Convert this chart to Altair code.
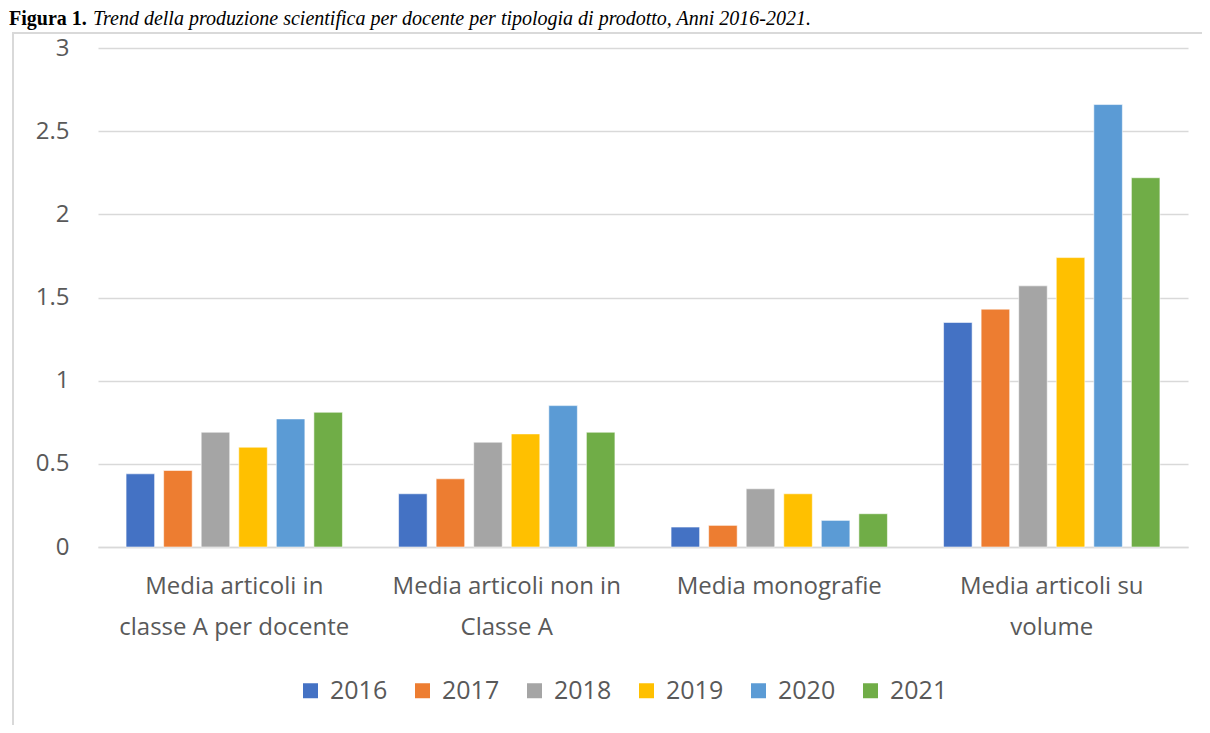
import altair as alt
import pandas as pd

category_lines = [
    ["Media articoli in", "classe A per docente"],
    ["Media articoli non in", "Classe A"],
    ["Media monografie"],
    ["Media articoli su", "volume"],
]
categories = [" ".join(l) for l in category_lines]
years = ["2016", "2017", "2018", "2019", "2020", "2021"]
colors = ["#4472C4", "#ED7D31", "#A5A5A5", "#FFC000", "#5B9BD5", "#70AD47"]

v_classe_a = [0.44, 0.46, 0.69, 0.60, 0.77, 0.81]
v_non_classe_a = [0.32, 0.41, 0.63, 0.68, 0.85, 0.69]
v_monografie = [0.12, 0.13, 0.35, 0.32, 0.16, 0.20]
v_volume = [1.35, 1.43, 1.57, 1.74, 2.66, 2.22]
series = [v_classe_a, v_non_classe_a, v_monografie, v_volume]

y_ticks = [0, 0.5, 1, 1.5, 2, 2.5, 3]

caption_bold = "Figura 1."
caption_rest = "Trend della produzione scientifica per docente per tipologia di prodotto, Anni 2016-2021."

rows = []
for c, vals in zip(categories, series):
    for y, v in zip(years, vals):
        rows.append({"category": c, "year": y, "value": v})
df = pd.DataFrame(rows)

# label expression producing multi-line labels
expr = "''"
for c, lines in reversed(list(zip(categories, category_lines))):
    arr = "[" + ",".join("'" + l + "'" for l in lines) + "]"
    expr = f"datum.label == '{c}' ? {arr} : ({expr})"

one = pd.DataFrame({"k": [0]})

FONT = "Open Sans"
GRAY = "#595959"

frame = alt.Chart(one).mark_rect(filled=False, stroke="#d9d9d9", strokeWidth=2).encode(
    x=alt.value(-85), x2=alt.value(1150), y=alt.value(-15), y2=alt.value(760)
)

cap1 = alt.Chart(one).mark_text(
    font="Liberation Serif", fontSize=20, fontWeight="bold", align="left",
    baseline="alphabetic", color="black"
).encode(x=alt.value(-89), y=alt.value(-23), text=alt.value(caption_bold))

cap2 = alt.Chart(one).mark_text(
    font="Liberation Serif", fontSize=20, fontStyle="italic", align="left",
    baseline="alphabetic", color="black"
).encode(x=alt.value(-5), y=alt.value(-23), text=alt.value(caption_rest))

bars = alt.Chart(df).mark_bar(stroke="white", strokeWidth=0.8, strokeOpacity=0.7).encode(
    x=alt.X(
        "category:N", sort=categories, title=None,
        scale=alt.Scale(paddingInner=0.206, paddingOuter=0.103),
        axis=alt.Axis(
            labelAngle=0, labelExpr=expr, labelFont=FONT, labelFontSize=24,
            labelColor=GRAY, labelLineHeight=41, labelPadding=27, ticks=False,
            tickSize=0, domainColor="#d9d9d9", domainWidth=1.5, grid=False,
            labelLimit=400,
        ),
    ),
    xOffset=alt.XOffset("year:N", sort=years, scale=alt.Scale(paddingInner=0.24)),
    y=alt.Y(
        "value:Q", title=None,
        scale=alt.Scale(domain=[0, 3], nice=False),
        axis=alt.Axis(
            values=y_ticks, format="~g", labelFont=FONT, labelFontSize=24,
            labelColor=GRAY, labelPadding=29, ticks=False, tickSize=0,
            domain=False, gridColor="#d9d9d9", gridWidth=1.5,
        ),
    ),
    color=alt.Color(
        "year:N", sort=years, title=None,
        scale=alt.Scale(domain=years, range=colors),
        legend=alt.Legend(
            orient="none", legendX=200, legendY=630, direction="horizontal",
            labelFont=FONT, labelFontSize=25, labelColor=GRAY,
            symbolType="square", symbolSize=225, symbolStrokeWidth=0,
            labelOffset=7, columnPadding=22,
        ),
    ),
)

chart = alt.layer(frame, bars, cap1, cap2).properties(
    width=1090, height=499,
    autosize=alt.AutoSizeParams(type="none"),
    padding={"left": 90, "top": 40, "right": 14, "bottom": 178},
    background="white",
).configure_view(strokeOpacity=0)

chart.save("out.html", embed_options={"renderer": "svg", "actions": False})
